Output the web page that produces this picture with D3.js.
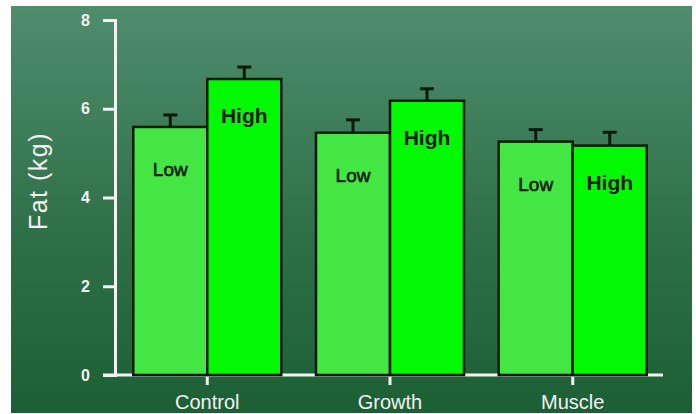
<!DOCTYPE html>
<html>
<head>
<meta charset="utf-8">
<script src="https://cdn.jsdelivr.net/npm/d3@7"></script>
<style>
  body { margin: 0; background: #fff; }
  svg { display: block; font-family: "Liberation Sans", Arial, sans-serif; }
</style>
</head>
<body>
<div class="canvas"></div>
<script>
const categories = ["Control", "Growth", "Muscle"];
const groups = ["Low", "High"];
const lowValues = [5.59, 5.46, 5.26];
const highValues = [6.67, 6.18, 5.17];
const lowErrors = [0.27, 0.29, 0.27];
const highErrors = [0.27, 0.27, 0.30];
const yTicks = [0, 2, 4, 6, 8];

const width = 696, height = 414;

const svg = d3.select('.canvas')
    .append('svg')
    .attr('width', width)
    .attr('height', height);

// background panel with vertical gradient
const defs = svg.append('defs');
const grad = defs.append('linearGradient')
    .attr('id', 'bg')
    .attr('x1', 0).attr('y1', 0).attr('x2', 0).attr('y2', 1);
grad.append('stop').attr('offset', '0%').attr('stop-color', '#4f8d6d');
grad.append('stop').attr('offset', '55%').attr('stop-color', '#2f7049');
grad.append('stop').attr('offset', '100%').attr('stop-color', '#1c5f35');

svg.append('rect')
    .attr('x', 11).attr('y', 6)
    .attr('width', 681).attr('height', 407)
    .attr('fill', 'url(#bg)');

const y = d3.scaleLinear().domain([0, 8]).range([375, 20]);
const x = d3.scaleBand().domain(categories).range([115, 665])
    .paddingInner(0.19).paddingOuter(0.1);
const xSub = d3.scaleBand().domain(groups).range([0, x.bandwidth()]);

const data = [];
categories.forEach((c, i) => {
    data.push({cat: c, group: "Low", value: lowValues[i], err: lowErrors[i]});
    data.push({cat: c, group: "High", value: highValues[i], err: highErrors[i]});
});

// baseline
svg.append('line')
    .attr('x1', 103).attr('x2', 663)
    .attr('y1', y(0)).attr('y2', y(0))
    .attr('stroke', '#f2f2f2').attr('stroke-width', 3);

// y axis
const yAxis = d3.axisLeft(y).tickValues(yTicks).tickSize(12).tickSizeOuter(12).tickPadding(13);
const yAxisGroup = svg.append('g')
    .attr('transform', `translate(115, 0)`)
    .call(yAxis);
yAxisGroup.select('.domain').attr('stroke', '#f2f2f2').attr('stroke-width', 3).attr('fill', 'none');
yAxisGroup.selectAll('.tick line').attr('stroke', '#f2f2f2').attr('stroke-width', 3);
yAxisGroup.selectAll('.tick text')
    .style('fill', '#f2f2f2')
    .style('font-size', '16px')
    .style('font-weight', 'bold')
    .style('font-family', '"Liberation Sans", Arial, sans-serif');

// x axis ticks and labels
const xAxis = d3.axisBottom(x).tickSize(9).tickPadding(10);
const xAxisGroup = svg.append('g')
    .attr('transform', `translate(0, ${y(0) + 1})`)
    .call(xAxis);
xAxisGroup.select('.domain').remove();
xAxisGroup.selectAll('.tick line').attr('stroke', '#f2f2f2').attr('stroke-width', 3);
xAxisGroup.selectAll('.tick text')
    .style('fill', '#f2f2f2')
    .style('font-size', '20px')
    .style('font-family', '"Liberation Sans", Arial, sans-serif');

// bars
const bar = svg.append('g').selectAll('g.bar')
    .data(data)
    .enter().append('g')
    .attr('class', 'bar');

bar.append('rect')
    .attr('x', d => x(d.cat) + xSub(d.group))
    .attr('y', d => y(d.value))
    .attr('width', xSub.bandwidth())
    .attr('height', d => y(0) - y(d.value))
    .attr('fill', d => d.group === 'Low' ? '#44e644' : '#03f903')
    .attr('stroke', '#0b1a0b')
    .attr('stroke-width', 2.5);

// error bars (upper only)
bar.append('line')
    .attr('x1', d => x(d.cat) + xSub(d.group) + xSub.bandwidth() / 2)
    .attr('x2', d => x(d.cat) + xSub(d.group) + xSub.bandwidth() / 2)
    .attr('y1', d => y(d.value))
    .attr('y2', d => y(d.value + d.err))
    .attr('stroke', '#0b1a0b').attr('stroke-width', 3);
bar.append('line')
    .attr('x1', d => x(d.cat) + xSub(d.group) + xSub.bandwidth() / 2 - 7)
    .attr('x2', d => x(d.cat) + xSub(d.group) + xSub.bandwidth() / 2 + 7)
    .attr('y1', d => y(d.value + d.err))
    .attr('y2', d => y(d.value + d.err))
    .attr('stroke', '#0b1a0b').attr('stroke-width', 3);

// bar labels
bar.append('text')
    .attr('x', d => x(d.cat) + xSub(d.group) + xSub.bandwidth() / 2)
    .attr('y', d => y(d.value) + (d.group === 'Low' ? 49 : 44))
    .attr('text-anchor', 'middle')
    .attr('fill', '#121a12')
    .attr('stroke', d => d.group === 'Low' ? '#121a12' : 'none')
    .attr('stroke-width', 0.6)
    .attr('font-size', d => d.group === 'Low' ? 19 : 21)
    .attr('font-weight', d => d.group === 'Low' ? 'normal' : 'bold')
    .text(d => d.group);

// y axis title
svg.append('text')
    .attr('transform', 'translate(47, 181) rotate(-90)')
    .attr('text-anchor', 'middle')
    .attr('fill', '#f2f2f2')
    .attr('font-size', 25)
    .attr('letter-spacing', 1.5)
    .text('Fat (kg)');
</script>
</body>
</html>
